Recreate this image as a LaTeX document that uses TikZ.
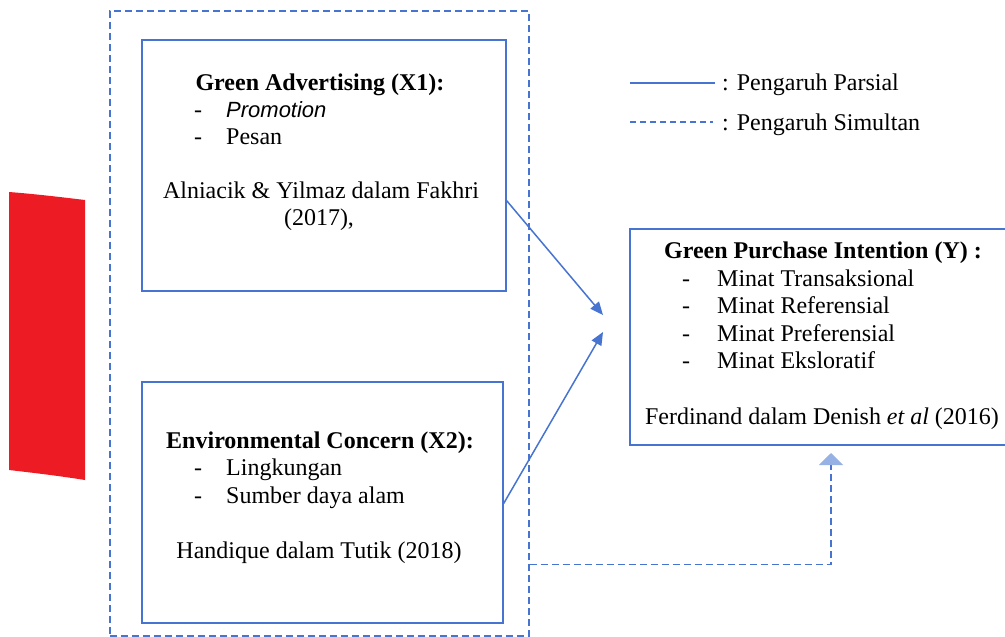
\documentclass[tikz,border=0pt]{standalone}
\usepackage{fontspec}
\setmainfont{Liberation Serif}
\newfontfamily\lsans{Liberation Sans}
\usetikzlibrary{arrows.meta}
\definecolor{lineblue}{RGB}{70,116,208}
\definecolor{tipblue}{RGB}{150,178,228}
\definecolor{redshape}{RGB}{237,28,36}
\begin{document}
\begin{tikzpicture}[x=1pt,y=-1pt,
  box/.style={draw=lineblue,line width=1.6pt,inner sep=0,anchor=north west},
  outerbox/.style={draw=lineblue,line width=1.6pt,dash pattern=on 7pt off 4pt,inner sep=0,anchor=north west},
  txt/.style={inner sep=0,anchor=base,font=\fontsize{24}{28}\selectfont},
  txtw/.style={txt,anchor=base west},
  simdash/.style={draw=lineblue,line width=1.6pt,dash pattern=on 7pt off 4pt},
  partial/.style={draw=lineblue,line width=1.5pt,-{Triangle[length=13pt,width=11pt]}},
  simul/.style={simdash,-{Triangle[length=12pt,width=24pt,color=tipblue,fill=tipblue]}}]
\useasboundingbox (0,0) rectangle (1005,637);
% red shape
\fill[redshape] (9,192) .. controls (35,194) and (60,197) .. (85,200) -- (85,480) .. controls (60,476) and (35,473) .. (9,470) -- cycle;
% boxes
\node[outerbox,minimum width=419pt,minimum height=625pt] (outer) at (109,10) {};
\node[box,minimum width=364pt,minimum height=251pt] (x1) at (141,39) {};
\node[box,minimum width=361pt,minimum height=241pt] (x2) at (141,381) {};
\node[box,minimum width=385pt,minimum height=216pt] (y) at (629,228) {};
% X1 text
\node[txt] (x1t) at (320,90) {\textbf{Green Advertising (X1):}};
\node[txt] (x1d1) at (198,117) {-};
\node[txtw] (x1i1) at (226,117) {\lsans\itshape\fontsize{22}{28}\selectfont Promotion};
\node[txt] (x1d2) at (198,144) {-};
\node[txtw] (x1i2) at (226,144) {Pesan};
\node[txt] (x1r1) at (321,198) {Alniacik \& Yilmaz dalam Fakhri};
\node[txt] (x1r2) at (319,225) {(2017),};
% X2 text
\node[txt] (x2t) at (320,448) {\textbf{Environmental Concern (X2):}};
\node[txt] (x2d1) at (198,475) {-};
\node[txtw] (x2i1) at (226,475) {Lingkungan};
\node[txt] (x2d2) at (198,503) {-};
\node[txtw] (x2i2) at (226,503) {Sumber daya alam};
\node[txt] (x2r) at (319,558) {Handique dalam Tutik (2018)};
% Y text
\node[txt] (yt) at (823,258) {\textbf{Green Purchase Intention (Y) :}};
\node[txt] (yd1) at (686,286) {-};
\node[txtw] (yi1) at (717,286) {Minat Transaksional};
\node[txt] (yd2) at (686,313) {-};
\node[txtw] (yi2) at (717,313) {Minat Referensial};
\node[txt] (yd3) at (686,341) {-};
\node[txtw] (yi3) at (717,341) {Minat Preferensial};
\node[txt] (yd4) at (686,368) {-};
\node[txtw] (yi4) at (717,368) {Minat Eksloratif};
\node[txt] (yr) at (822,424) {Ferdinand dalam Denish \textit{et al} (2016)};
% connectors
\coordinate (e1) at (603,315);
\coordinate (e2) at (603,332);
\coordinate (e3) at (831,453);
\draw[partial] ([yshift=91pt]x1.south east) -- (e1);
\draw[partial] ([yshift=120pt]x2.south east) -- (e2);
\draw[simul] ([yshift=72pt]outer.south east) -| (e3);
% legend
\coordinate (l1a) at (630,83);
\coordinate (l1b) at (715,83);
\coordinate (l2a) at (630,122);
\coordinate (l2b) at (713,122);
\draw[draw=lineblue,line width=1.4pt] (l1a) -- (l1b);
\draw[draw=lineblue,line width=1.4pt,dash pattern=on 6pt off 4pt] (l2a) -- (l2b);
\node[txtw] (lg1) at (722,90) {: Pengaruh Parsial};
\node[txtw] (lg2) at (722,130) {: Pengaruh Simultan};
\end{tikzpicture}
\end{document}
